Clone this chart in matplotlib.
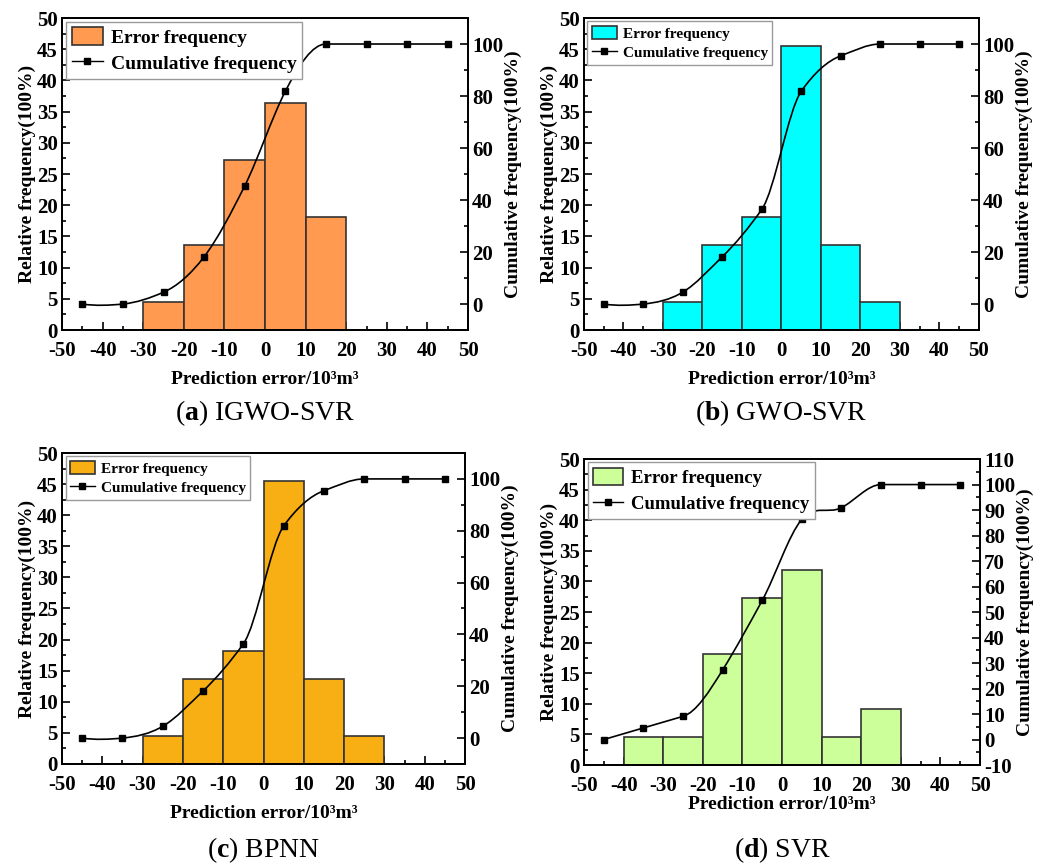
import numpy as np
import matplotlib
matplotlib.use('Agg')
import matplotlib.pyplot as plt
from matplotlib.path import Path
from matplotlib.patches import PathPatch, Patch
from matplotlib.lines import Line2D
from matplotlib.ticker import MultipleLocator

plt.rcParams['font.family'] = ['Liberation Serif', 'DejaVu Serif']
plt.rcParams['font.weight'] = 'bold'
plt.rcParams['axes.labelweight'] = 'bold'
plt.rcParams['axes.unicode_minus'] = False
plt.rcParams['mathtext.fontset'] = 'custom'
plt.rcParams['mathtext.rm'] = 'Liberation Serif'
plt.rcParams['mathtext.bf'] = 'Liberation Serif:bold'

### data ###
centers = [-45, -35, -25, -15, -5, 5, 15, 25, 35, 45]

freq_igwo = [0, 0, 4.55, 13.64, 27.27, 36.36, 18.18, 0, 0, 0]
cum_igwo = [0, 0, 4.55, 18.18, 45.45, 81.82, 100, 100, 100, 100]

freq_gwo = [0, 0, 4.55, 13.64, 18.18, 45.45, 13.64, 4.55, 0, 0]
cum_gwo = [0, 0, 4.55, 18.18, 36.36, 81.82, 95.45, 100, 100, 100]

freq_bpnn = [0, 0, 4.55, 13.64, 18.18, 45.45, 13.64, 4.55, 0, 0]
cum_bpnn = [0, 0, 4.55, 18.18, 36.36, 81.82, 95.45, 100, 100, 100]

freq_svr = [0, 4.55, 4.55, 18.18, 27.27, 31.82, 4.55, 9.09, 0, 0]
cum_svr = [0, 4.55, 9.09, 27.27, 54.55, 86.36, 90.91, 100, 100, 100]
### ### ### ###


def akima_path(x, y):
    # smooth connecting line (akima tangents, drawn as bezier segments)
    x = np.asarray(x, float)
    y = np.asarray(y, float)
    m = np.diff(y) / np.diff(x)
    m = np.concatenate([[3 * m[0] - 2 * m[1], 2 * m[0] - m[1]], m,
                        [2 * m[-1] - m[-2], 3 * m[-1] - 2 * m[-2]]])
    t = np.zeros(len(x))
    for i in range(len(x)):
        w1 = abs(m[i + 3] - m[i + 2])
        w2 = abs(m[i + 1] - m[i])
        if w1 + w2 == 0:
            t[i] = 0.5 * (m[i + 1] + m[i + 2])
        else:
            t[i] = (w1 * m[i + 1] + w2 * m[i + 2]) / (w1 + w2)
    verts = [(x[0], y[0])]
    codes = [Path.MOVETO]
    for i in range(len(x) - 1):
        h = x[i + 1] - x[i]
        verts += [(x[i] + h / 3, y[i] + t[i] * h / 3),
                  (x[i + 1] - h / 3, y[i + 1] - t[i + 1] * h / 3),
                  (x[i + 1], y[i + 1])]
        codes += [Path.CURVE4] * 3
    return Path(verts, codes)


def panel(rect, freq, cum, color, caption, leg_size, leg_w, leg_sp, label_pad, right_step, caption_y):
    ax = fig.add_axes(rect)
    ax.bar(centers, freq, width=10, color=color, edgecolor='#333333', linewidth=1.2, zorder=2)
    ax.set_xlim(-50, 50)
    ax.set_ylim(0, 50)
    ax.xaxis.set_major_locator(MultipleLocator(10))
    ax.xaxis.set_minor_locator(MultipleLocator(5))
    ax.yaxis.set_major_locator(MultipleLocator(5))
    ax.yaxis.set_minor_locator(MultipleLocator(2.5))
    ax.tick_params(which='both', direction='in', labelsize=15, width=1.2)
    ax.tick_params(axis='x', pad=8)
    ax.tick_params(axis='y', pad=3)
    ax.tick_params(which='major', length=6)
    ax.tick_params(which='minor', length=3)
    for lab in ax.get_xticklabels() + ax.get_yticklabels():
        lab.set_fontweight('bold')
    ax.set_xlabel('Prediction error/10³m³', fontsize=14, fontweight='bold', labelpad=label_pad)
    ax.set_ylabel('Relative frequency(100%)', fontsize=14, fontweight='bold', labelpad=1)

    ax2 = ax.twinx()
    ax2.set_ylim(-10, 110)
    ax2.yaxis.set_major_locator(MultipleLocator(right_step))
    ax2.yaxis.set_minor_locator(MultipleLocator(right_step / 2))
    ax2.tick_params(which='both', direction='in', labelsize=15, width=1.2, pad=3)
    ax2.tick_params(which='major', length=6)
    ax2.tick_params(which='minor', length=3)
    if right_step == 20:
        ax2.set_yticks([0, 20, 40, 60, 80, 100])
    for lab in ax2.get_yticklabels():
        lab.set_fontweight('bold')
    ax2.set_ylabel('Cumulative frequency(100%)', fontsize=14, fontweight='bold', labelpad=1)
    ax2.add_patch(PathPatch(akima_path(centers, cum), fill=False, edgecolor='black', linewidth=1.2, zorder=3))
    ax2.plot(centers, cum, linestyle='none', marker='s', markersize=5, color='black', zorder=4)

    for a in (ax, ax2):
        for s in a.spines.values():
            s.set_linewidth(1.3)

    handles = [Patch(facecolor=color, edgecolor='#333333', linewidth=1.2),
               Line2D([], [], color='black', linewidth=1.0, marker='s', markersize=5)]
    leg = ax2.legend(handles, ['Error frequency', 'Cumulative frequency'], loc='upper left',
                     bbox_to_anchor=(0.005, 0.995), frameon=True, fancybox=False,
                     prop={'size': leg_size, 'weight': 'bold'},
                     edgecolor='#9a9a9a', framealpha=1, borderpad=0.3, handlelength=leg_w,
                     handleheight=1.0, handletextpad=0.4, labelspacing=leg_sp, borderaxespad=0.1)
    leg.get_frame().set_linewidth(1.0)

    cx = rect[0] + rect[2] / 2
    fig.text(cx, caption_y, caption, ha='center', va='center', fontsize=20, fontweight='normal')
    return ax


fig = plt.figure(figsize=(10.53, 8.66), dpi=100)

panel([0.0589, 0.6189, 0.3856, 0.3603], freq_igwo, cum_igwo, '#FF9A50',
      r'($\mathbf{a}$) IGWO-SVR', 14, 1.6, 0.35, 7, 20, 1 - 413 / 866)
panel([0.5546, 0.6189, 0.3751, 0.3603], freq_gwo, cum_gwo, '#00FFFF',
      r'($\mathbf{b}$) GWO-SVR', 11, 1.6, 0.3, 7, 20, 1 - 413 / 866)
panel([0.0589, 0.1178, 0.3827, 0.3591], freq_bpnn, cum_bpnn, '#F7AF14',
      r'($\mathbf{c}$) BPNN', 11, 1.6, 0.3, 7, 20, 1 - 850 / 866)
panel([0.5546, 0.1166, 0.3761, 0.3533], freq_svr, cum_svr, '#CCFF99',
      r'($\mathbf{d}$) SVR', 13.5, 1.6, 0.4, 0, 10, 1 - 850 / 866)

fig.savefig('out.png', dpi=100, facecolor='white')
